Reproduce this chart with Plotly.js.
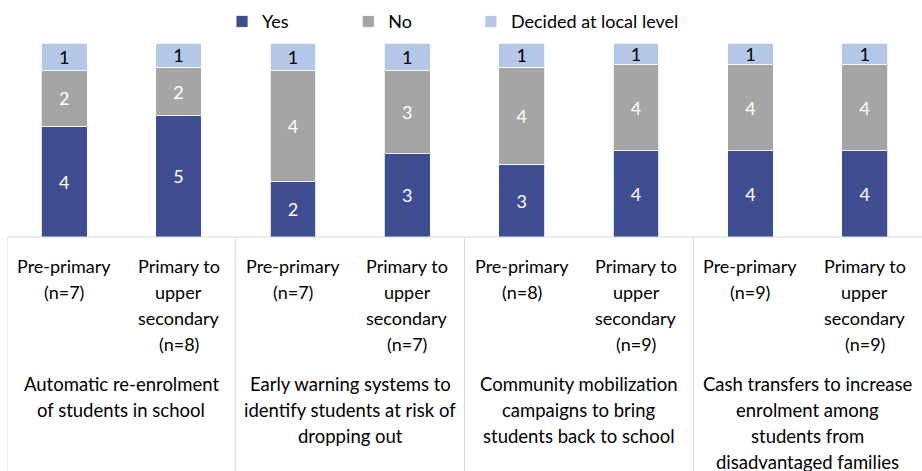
<!DOCTYPE html>
<html>
<head>
<meta charset="utf-8">
<script src="https://cdn.plot.ly/plotly-3.0.1.min.js"></script>
<style>html,body{margin:0;padding:0;background:#fff;}#chart{width:922px;height:471px;}</style>
</head>
<body>
<div id="chart"></div>
<script>
// ---- data ----
const levelLabels = [
  "Pre-primary<br>(n=7)", "Primary to<br>upper<br>secondary<br>(n=8)",
  "Pre-primary<br>(n=7)", "Primary to<br>upper<br>secondary<br>(n=7)",
  "Pre-primary<br>(n=8)", "Primary to<br>upper<br>secondary<br>(n=9)",
  "Pre-primary<br>(n=9)", "Primary to<br>upper<br>secondary<br>(n=9)"
];
const groupLabels = [
  "Automatic re-enrolment<br>of students in school",
  "Early warning systems to<br>identify students at risk of<br>dropping out",
  "Community mobilization<br>campaigns to bring<br>students back to school",
  "Cash transfers to increase<br>enrolment among<br>students from<br>disadvantaged families"
];
const yesValues   = [4, 5, 2, 3, 3, 4, 4, 4];
const noValues    = [2, 2, 4, 3, 4, 4, 4, 4];
const localValues = [1, 1, 1, 1, 1, 1, 1, 1];
const seriesNames = ["Yes", "No", "Decided at local level"];

// ---- style ----
const FONT = "Lato, 'Noto Sans', sans-serif";
const colors = ["#3f4e90", "#a5a5a5", "#b4c7e7"];
const textColors = ["#ffffff", "#ffffff", "#000000"];
const xIdx = levelLabels.map((_, i) => i);

const allVals = [yesValues, noValues, localValues];
const legendIds = ["legend", "legend2", "legend3"];
const traces = allVals.map((vals, k) => ({
  type: "bar",
  name: seriesNames[k],
  x: xIdx,
  y: vals,
  text: vals.map(String),
  textposition: "inside",
  insidetextanchor: "middle",
  textangle: 0,
  constraintext: "none",
  textfont: {family: FONT, size: 18, color: textColors[k]},
  marker: {color: colors[k], line: {color: "#ffffff", width: 0.8}},
  width: 0.4,
  legend: legendIds[k],
  hoverinfo: "skip"
}));

const plotH = 194;
const px2y = p => -(p) / plotH; // pixels below plot bottom -> paper y

const annotations = [];
const lineH = 26;
levelLabels.forEach((lab, i) => {
  lab.split("<br>").forEach((ln, j) => {
    annotations.push({
      text: ln, x: i, xref: "x", y: px2y(16 + j * lineH), yref: "paper",
      xanchor: "center", yanchor: "top", showarrow: false,
      font: {family: FONT, size: 18, color: "#000"}
    });
  });
});
groupLabels.forEach((lab, g) => {
  lab.split("<br>").forEach((ln, j) => {
    annotations.push({
      text: ln, x: 2 * g + 0.5, xref: "x", y: px2y(134 + j * lineH), yref: "paper",
      xanchor: "center", yanchor: "top", showarrow: false,
      font: {family: FONT, size: 18.5, color: "#000"}
    });
  });
});

const shapes = [{
  type: "line", xref: "paper", yref: "paper", x0: 0, x1: 1, y0: 0, y1: 0,
  line: {color: "#d9d9d9", width: 1}
}];
[-0.5, 1.5, 3.5, 5.5].forEach(b => shapes.push({
  type: "line", xref: "x", yref: "paper", x0: b, x1: b, y0: 0, y1: px2y(240),
  line: {color: "#d9d9d9", width: 1}
}));

const legBase = {orientation: "h", yanchor: "top", y: 1.205, xanchor: "left",
  font: {family: FONT, size: 18, color: "#000"}, bgcolor: "rgba(0,0,0,0)", itemclick: false};

const layout = {
  width: 922, height: 471,
  margin: {l: 7, r: 0, t: 43, b: 234},
  barmode: "stack",
  barnorm: "percent",
  paper_bgcolor: "#ffffff", plot_bgcolor: "#ffffff",
  showlegend: true,
  legend: Object.assign({}, legBase, {x: 0.235}),
  legend2: Object.assign({}, legBase, {x: 0.373}),
  legend3: Object.assign({}, legBase, {x: 0.507}),
  xaxis: {range: [-0.5, 7.5], showticklabels: false, showgrid: false, zeroline: false, showline: false, fixedrange: true},
  yaxis: {range: [0, 100], visible: false, showgrid: false, fixedrange: true},
  annotations: annotations,
  shapes: shapes,
  font: {family: FONT}
};

Plotly.newPlot("chart", traces, layout, {displayModeBar: false, staticPlot: true});
</script>
</body>
</html>
